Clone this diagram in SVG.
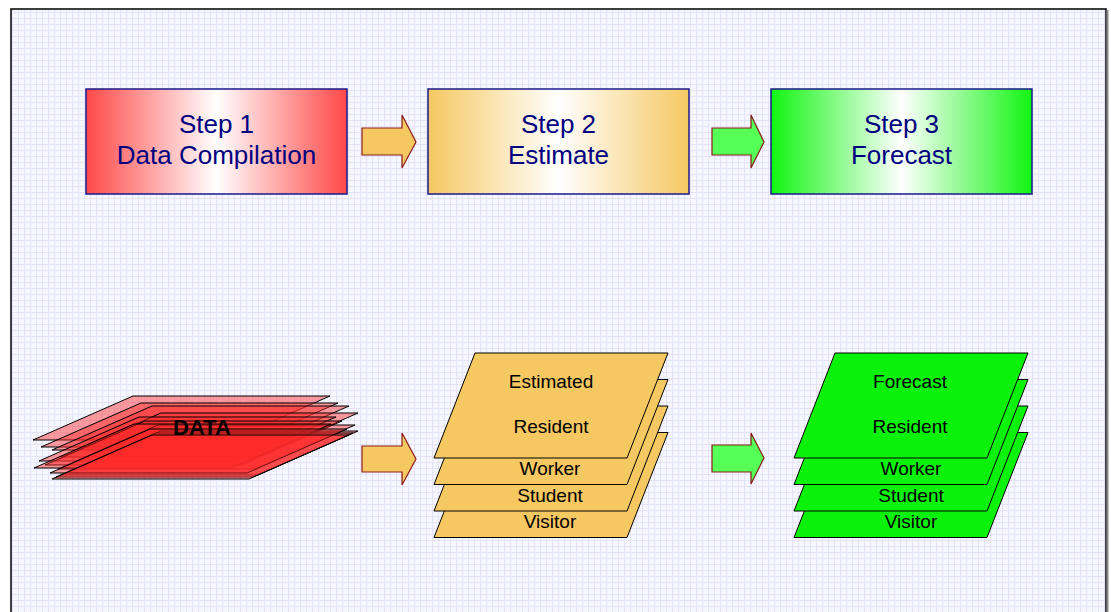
<svg xmlns="http://www.w3.org/2000/svg" width="1111" height="612" viewBox="0 0 1111 612">
<style>
.step{font-family:"Liberation Sans",Arial,sans-serif;font-size:26px;fill:#000080;text-anchor:middle}
.lbl{font-family:"Liberation Sans",Arial,sans-serif;font-size:19px;fill:#000;text-anchor:middle}
.box{stroke:#1a1a8c;stroke-width:1.5}
.arrO{fill:#f5c862;stroke:#8b1a1a;stroke-width:1.2}
.arrG{fill:#55ff55;stroke:#8b1a1a;stroke-width:1.2}
.cardO{fill:#f5c862;stroke:#000;stroke-width:1}
.cardG{fill:#0af20a;stroke:#000;stroke-width:1}
.lay{fill:#ff2a2a;fill-opacity:0.45;stroke:#000;stroke-width:1}
</style>
<defs>
<pattern id="grid" width="6" height="6" patternUnits="userSpaceOnUse">
<rect width="6" height="6" fill="#f6f6ff"/>
<path d="M0 0.5H6M0.5 0V6" stroke="#e4e4f6" stroke-width="1"/>
</pattern>
<linearGradient id="gR" x1="0" x2="1" y1="0" y2="0"><stop offset="0" stop-color="#ff4848"/><stop offset="0.5" stop-color="#ffffff"/><stop offset="1" stop-color="#ff4848"/></linearGradient>
<linearGradient id="gO" x1="0" x2="1" y1="0" y2="0"><stop offset="0" stop-color="#f5c862"/><stop offset="0.5" stop-color="#ffffff"/><stop offset="1" stop-color="#f5c862"/></linearGradient>
<linearGradient id="gG" x1="0" x2="1" y1="0" y2="0"><stop offset="0" stop-color="#11f511"/><stop offset="0.5" stop-color="#ffffff"/><stop offset="1" stop-color="#11f511"/></linearGradient>
<polygon id="card" points="475,353 668,353 627,458 434,458"/>
<polygon id="layer" points="-197,0 0,0 -100,44 -297,44"/>
</defs>
<rect width="1111" height="612" fill="#ffffff"/>
<rect x="11" y="9" width="1095" height="610" fill="url(#grid)" stroke="#000" stroke-width="1.5"/>
<line x1="1107.5" y1="10" x2="1107.5" y2="612" stroke="#888" stroke-width="2"/>

<g id="step1">
<rect class="box" x="86" y="89" width="261" height="105" fill="url(#gR)"/>
<text class="step" x="216.5" y="133">Step 1</text>
<text class="step" x="216.5" y="164">Data Compilation</text>
</g>
<g id="step2">
<rect class="box" x="428" y="89" width="261" height="105" fill="url(#gO)"/>
<text class="step" x="558.5" y="133">Step 2</text>
<text class="step" x="558.5" y="164">Estimate</text>
</g>
<g id="step3">
<rect class="box" x="771" y="89" width="261" height="105" fill="url(#gG)"/>
<text class="step" x="901.5" y="133">Step 3</text>
<text class="step" x="901.5" y="164">Forecast</text>
</g>

<g id="data">
<use href="#layer" class="lay" transform="translate(330,396)"/>
<use href="#layer" class="lay" transform="translate(338,403)"/>
<use href="#layer" class="lay" transform="translate(349,406)"/>
<use href="#layer" class="lay" transform="translate(358,413)"/>
<use href="#layer" class="lay" transform="translate(336,417)"/>
<use href="#layer" class="lay" transform="translate(342,421)"/>
<use href="#layer" class="lay" transform="translate(355,425)"/>
<use href="#layer" class="lay" transform="translate(331,424)"/>
<use href="#layer" class="lay" transform="translate(358,431)"/>
<use href="#layer" class="lay" transform="translate(353,433)"/>
<use href="#layer" class="lay" transform="translate(347,429)"/>
<use href="#layer" class="lay" transform="translate(349,435)"/>
<text x="202" y="435" font-family="Liberation Sans,Arial,sans-serif" font-size="22" font-weight="bold" text-anchor="middle" fill="#000">DATA</text>
</g>

<g id="estimate">
<use href="#card" class="cardO" transform="translate(0,79.5)"/>
<use href="#card" class="cardO" transform="translate(0,53)"/>
<use href="#card" class="cardO" transform="translate(0,26.5)"/>
<use href="#card" class="cardO"/>
<text class="lbl" x="551" y="388">Estimated</text>
<text class="lbl" x="551" y="433">Resident</text>
<text class="lbl" x="550" y="475">Worker</text>
<text class="lbl" x="550" y="502">Student</text>
<text class="lbl" x="550" y="528">Visitor</text>
</g>

<g id="forecast">
<use href="#card" class="cardG" transform="translate(360,79.5)"/>
<use href="#card" class="cardG" transform="translate(360,53)"/>
<use href="#card" class="cardG" transform="translate(360,26.5)"/>
<use href="#card" class="cardG" transform="translate(360,0)"/>
<text class="lbl" x="910" y="388">Forecast</text>
<text class="lbl" x="910" y="433">Resident</text>
<text class="lbl" x="911" y="475">Worker</text>
<text class="lbl" x="911" y="502">Student</text>
<text class="lbl" x="911" y="528">Visitor</text>
</g>

<g id="connectors">
<polygon class="arrO" points="362,128 402,128 402,115 416,142 402,168 402,155 362,155"/>
<polygon class="arrG" points="712,128 751,128 751,115 764,142 751,168 751,155 712,155"/>
<polygon class="arrO" points="362,446 402,446 402,433 416,459 402,485 402,472 362,472"/>
<polygon class="arrG" points="712,445 751,445 751,433 764,458 751,484 751,472 712,472"/>
</g>
</svg>
